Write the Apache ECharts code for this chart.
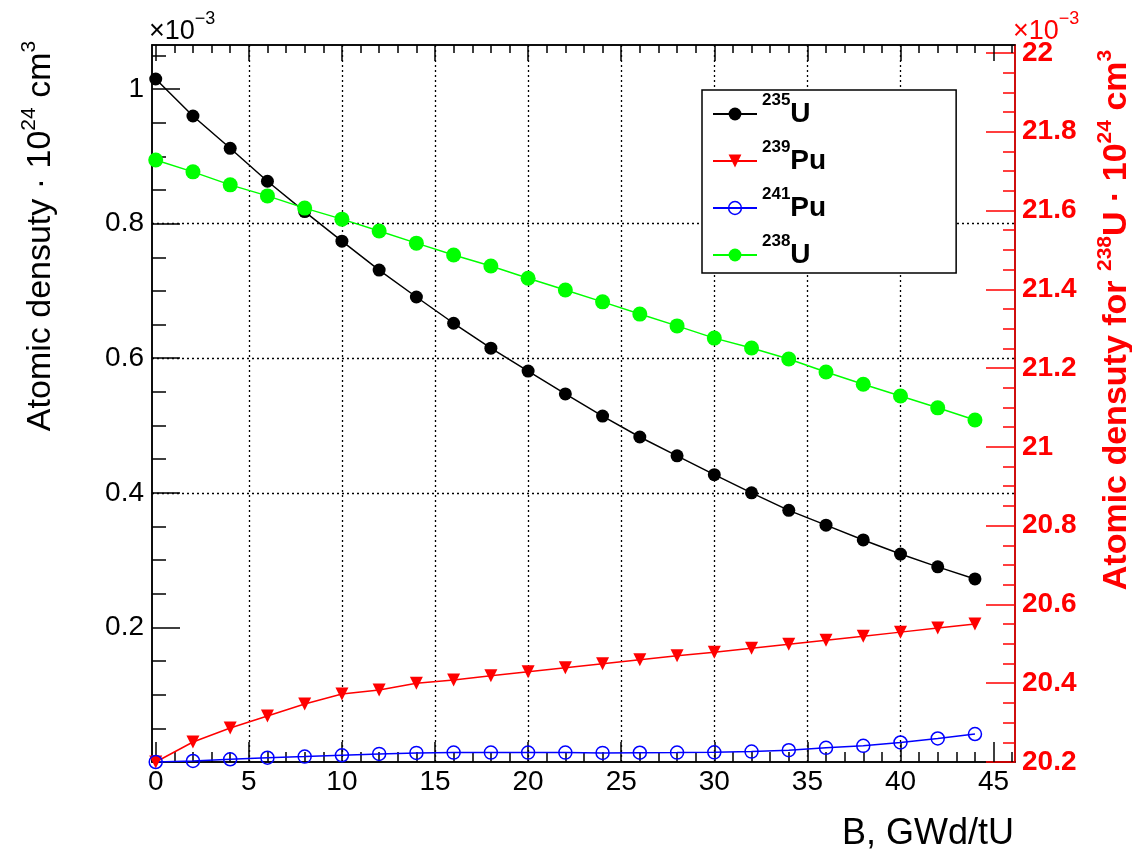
<!DOCTYPE html>
<html><head><meta charset="utf-8">
<script src="https://cdn.jsdelivr.net/npm/echarts@6/dist/echarts.min.js"></script>
<style>html,body{margin:0;padding:0;background:#fff}#c{width:1132px;height:858px}</style>
</head><body><div id="c"></div>
<script>
// ---- data ----
const burnup = [0,2,4,6,8,10,12,14,16,18,20,22,24,26,28,30,32,34,36,38,40,42,44];
const u235  = [1.015,0.960,0.912,0.863,0.818,0.774,0.731,0.691,0.652,0.615,0.581,0.547,0.514,0.483,0.455,0.427,0.400,0.374,0.352,0.330,0.309,0.290,0.272];
const pu239 = [0,0.0297,0.0505,0.0684,0.0862,0.101,0.107,0.117,0.122,0.128,0.134,0.140,0.146,0.152,0.158,0.163,0.169,0.175,0.181,0.187,0.193,0.199,0.205];
const pu241 = [0,0.0015,0.004,0.0064,0.008,0.010,0.012,0.0135,0.014,0.014,0.014,0.014,0.0135,0.0138,0.014,0.0144,0.0155,0.0175,0.021,0.024,0.029,0.035,0.0416];
const u238  = [21.728,21.698,21.665,21.637,21.606,21.578,21.548,21.517,21.487,21.459,21.428,21.398,21.368,21.337,21.307,21.276,21.251,21.223,21.190,21.159,21.129,21.099,21.068];
const seriesNames = ['235U','239Pu','241Pu','238U'];
const xTickLabels = [0,5,10,15,20,25,30,35,40,45];
const yLeftTickLabels = [0.2,0.4,0.6,0.8,1];
const yRightTickLabels = [20.2,20.4,20.6,20.8,21,21.2,21.4,21.6,21.8,22];

const FONT = "'Liberation Sans', Arial, Helvetica, sans-serif";
const pairs = arr => burnup.map((x,i)=>[x, arr[i]]);
const gridLine = {show:true, showMinLine:false, showMaxLine:false, lineStyle:{color:'#000', width:1.3, type:[2,3]}};
const RED = '#ff0000';

const chart = echarts.init(document.getElementById('c'));
chart.setOption({
  animation:false,
  backgroundColor:'#fff',
  grid:{left:152, top:45, right:117, bottom:96, show:true, borderColor:'#000', borderWidth:1.5, backgroundColor:'transparent'},
  xAxis:[
    {type:'value', position:'bottom', min:-0.2, max:46.15, splitNumber:9,
     axisLine:{show:true, onZero:false, lineStyle:{color:'#000', width:1.5}},
     axisTick:{show:true, inside:true, length:20, customValues:xTickLabels, lineStyle:{color:'#000', width:1.5}},
     minorTick:{show:true, splitNumber:5, length:10, lineStyle:{color:'#000', width:1.5}},
     axisLabel:{customValues:xTickLabels, margin:6, fontSize:28, color:'#000', fontFamily:FONT},
     splitLine:gridLine},
    {type:'value', position:'top', min:-0.2, max:46.15, splitNumber:9,
     axisLine:{show:true, onZero:false, lineStyle:{color:'#000', width:1.5}},
     axisTick:{show:true, inside:true, length:16, customValues:xTickLabels, lineStyle:{color:'#000', width:1.5}},
     minorTick:{show:true, splitNumber:5, length:8, lineStyle:{color:'#000', width:1.5}},
     axisLabel:{show:false}, splitLine:{show:false}}
  ],
  yAxis:[
    {type:'value', position:'left', min:0, max:1.0655, splitNumber:5,
     axisLine:{show:true, onZero:false, lineStyle:{color:'#000', width:1.5}},
     axisTick:{show:true, inside:true, length:28, customValues:yLeftTickLabels, lineStyle:{color:'#000', width:1.5}},
     minorTick:{show:true, splitNumber:4, length:14, lineStyle:{color:'#000', width:1.5}},
     axisLabel:{customValues:yLeftTickLabels, margin:8, fontSize:28, color:'#000', fontFamily:FONT},
     splitLine:gridLine},
    {type:'value', position:'right', min:20.2, max:22.02, splitNumber:9,
     axisLine:{show:true, onZero:false, lineStyle:{color:RED, width:1.5}},
     axisTick:{show:true, inside:true, length:29, customValues:yRightTickLabels, lineStyle:{color:RED, width:1.5}},
     minorTick:{show:true, splitNumber:4, length:12, lineStyle:{color:RED, width:1.5}},
     axisLabel:{customValues:yRightTickLabels, margin:7, fontSize:28, fontWeight:'bold', color:RED, fontFamily:FONT},
     splitLine:{show:false}}
  ],
  legend:{
    left:702, top:90, orient:'vertical', backgroundColor:'#fff', borderColor:'#000', borderWidth:1.5,
    padding:[2,130,4,10], itemGap:11, itemWidth:44, itemHeight:16, align:'left',
    data:[
      {name:seriesNames[0]},
      {name:seriesNames[1]},
      {name:seriesNames[2], itemStyle:{color:'rgba(0,0,0,0)', borderColor:'#0000ff', borderWidth:1.5}},
      {name:seriesNames[3]}
    ],
    formatter: n => { const m = n.match(/^(\d+)(.*)$/); return '{s|'+m[1]+'}{m|'+m[2]+'}'; },
    textStyle:{fontFamily:FONT, color:'#000', rich:{
      s:{fontSize:17, fontWeight:'bold', fontFamily:FONT, verticalAlign:'top', lineHeight:17, color:'#000'},
      m:{fontSize:28, fontWeight:'bold', fontFamily:FONT, lineHeight:44, color:'#000'}
    }}
  },
  series:[
    {name:seriesNames[0], type:'line', data:pairs(u235), xAxisIndex:0, yAxisIndex:0, symbol:'circle', symbolSize:13,
     lineStyle:{color:'#000', width:1.5}, itemStyle:{color:'#000'}},
    {name:seriesNames[1], type:'line', data:pairs(pu239), xAxisIndex:0, yAxisIndex:0, symbol:'triangle', symbolRotate:180, symbolSize:13,
     lineStyle:{color:RED, width:1.5}, itemStyle:{color:RED}},
    {name:seriesNames[2], type:'line', data:pairs(pu241), xAxisIndex:0, yAxisIndex:0, symbol:'circle', symbolSize:13,
     lineStyle:{color:'#0000ff', width:1.5}, itemStyle:{color:'rgba(0,0,0,0)', borderColor:'#0000ff', borderWidth:1.5}},
    {name:seriesNames[3], type:'line', data:pairs(u238), xAxisIndex:0, yAxisIndex:1, symbol:'circle', symbolSize:15,
     lineStyle:{color:'#00ff00', width:1.5}, itemStyle:{color:'#00ff00'}}
  ],
  graphic:[
    {type:'text', x:41, y:236, rotation:Math.PI/2, style:{
      text:'{a|Atomic densuty · 10}{s|24}{a| cm}{s|3}', align:'center', verticalAlign:'middle', textAlign:'center', textVerticalAlign:'middle',
      rich:{a:{fontSize:34, fontFamily:FONT, lineHeight:44, fill:'#000'}, s:{fontSize:21, fontFamily:FONT, lineHeight:21, verticalAlign:'top', fill:'#000'}}}},
    {type:'text', x:1117, y:320, rotation:Math.PI/2, style:{
      text:'{a|Atomic densuty for }{s|238}{a|U · 10}{s|24}{a| cm}{s|3}', align:'center', verticalAlign:'middle', textAlign:'center', textVerticalAlign:'middle',
      rich:{a:{fontSize:34, fontWeight:'bold', fontFamily:FONT, lineHeight:44, fill:RED}, s:{fontSize:21, fontWeight:'bold', fontFamily:FONT, lineHeight:21, verticalAlign:'top', fill:RED}}}},
    {type:'text', x:1014, y:834, style:{text:'B, GWd/tU', font:'36px '+FONT, fill:'#000', align:'right', verticalAlign:'middle', textAlign:'right', textVerticalAlign:'middle'}},
    {type:'text', x:149, y:10, style:{
      text:'{a|×10}{s|−3}', align:'left', verticalAlign:'top', textAlign:'left', textVerticalAlign:'top',
      rich:{a:{fontSize:27, fontFamily:FONT, lineHeight:44, fill:'#000'}, s:{fontSize:18, fontFamily:FONT, lineHeight:18, verticalAlign:'top', fill:'#000'}}}},
    {type:'text', x:1013, y:10, style:{
      text:'{a|×10}{s|−3}', align:'left', verticalAlign:'top', textAlign:'left', textVerticalAlign:'top',
      rich:{a:{fontSize:27, fontFamily:FONT, lineHeight:44, fill:RED}, s:{fontSize:18, fontFamily:FONT, lineHeight:18, verticalAlign:'top', fill:RED}}}}
  ]
});
</script></body></html>
